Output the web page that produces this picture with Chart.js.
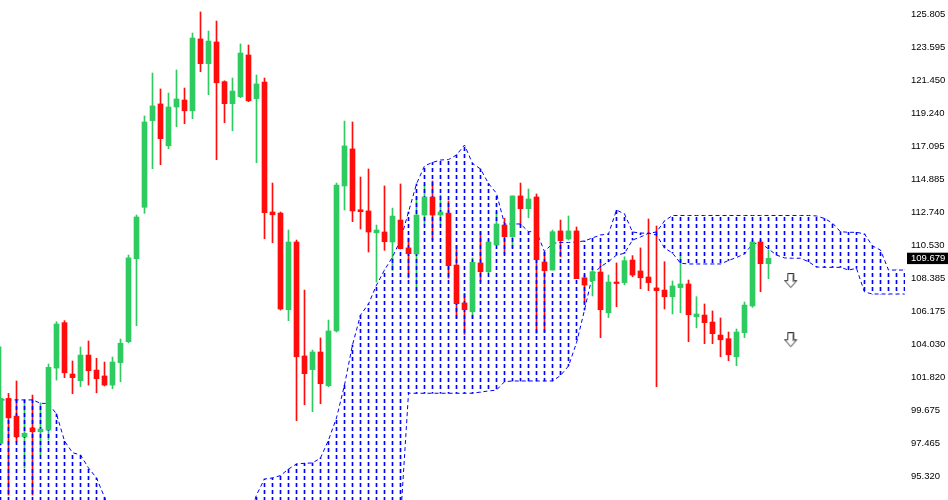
<!DOCTYPE html>
<html>
<head>
<meta charset="utf-8">
<title>Ichimoku chart</title>
<script src="https://cdn.jsdelivr.net/npm/chart.js@4.4.1/dist/chart.umd.min.js"></script>
<style>
  html, body { margin:0; padding:0; background:#fff; }
  #wrap { width:948px; height:500px; position:relative; }
</style>
</head>
<body>
<div id="wrap"><canvas id="chart"></canvas></div>
<script>
// Daily candles, oldest first
const OPEN = [
  97.47,100.44,99.27,97.91,98.49,98.24,98.35,102.44,105.44,102.05,
  101.61,103.30,102.31,101.92,101.32,102.80,104.18,109.66,113.05,118.77,
  119.87,117.11,119.67,120.13,119.42,124.16,122.53,123.96,121.34,119.89,
  120.35,123.10,120.22,121.32,112.74,112.67,106.29,110.76,103.24,102.34,
  103.50,101.28,104.89,114.46,116.90,112.89,112.81,111.37,111.42,110.76,
  112.21,110.37,109.97,112.54,113.73,112.54,112.67,109.24,106.74,106.16,
  109.38,108.80,110.56,111.88,111.11,113.80,112.96,113.73,109.44,108.91,
  111.49,110.96,111.49,108.40,108.21,108.78,106.09,108.12,108.08,109.57,
  108.85,108.45,107.73,107.59,107.15,107.75,107.99,105.83,105.94,105.48,
  104.62,104.38,103.19,104.78,106.54,110.76,109.33
];
const HIGH = [
  103.85,100.77,101.59,100.33,100.66,100.14,102.71,105.50,105.57,102.91,
  103.83,104.23,103.09,102.84,103.17,104.36,109.90,112.54,119.08,121.91,
  120.86,120.59,122.11,120.92,124.55,125.94,124.68,125.34,121.40,121.58,
  123.83,123.76,121.78,121.58,114.65,112.74,111.55,110.89,107.59,103.63,
  104.43,105.61,114.65,118.74,118.68,115.05,115.58,111.88,114.46,113.00,
  114.59,111.02,113.73,114.52,114.79,113.86,113.47,110.52,107.37,109.71,
  111.44,110.89,112.72,112.32,113.80,114.65,114.26,113.93,110.12,111.55,
  112.21,112.48,111.75,108.58,109.02,109.38,108.58,109.38,109.79,109.86,
  110.37,112.28,111.82,109.46,108.19,109.90,108.25,107.15,106.67,106.21,
  105.75,104.82,105.02,106.80,110.89,110.89,110.23
];
const LOW = [
  97.36,94.07,97.56,95.85,94.07,96.71,97.69,101.65,101.81,100.75,
  101.21,101.32,100.81,101.26,101.08,101.54,104.10,105.24,112.65,115.60,
  115.86,116.92,118.37,118.57,118.90,122.00,120.48,116.19,118.63,118.10,
  120.28,120.02,115.99,110.98,110.71,106.27,105.57,98.97,100.02,99.56,
  100.09,101.21,104.82,112.87,112.10,111.62,110.10,108.12,110.21,108.88,
  110.30,108.39,107.48,111.88,110.89,111.88,108.37,105.73,104.67,105.73,
  108.14,108.71,110.56,109.95,110.38,111.88,112.36,104.74,104.80,108.91,
  109.79,110.89,108.34,106.73,107.20,104.45,105.77,106.49,107.94,108.47,
  107.68,107.55,101.21,106.34,106.01,106.09,104.18,105.10,104.05,104.05,
  103.19,102.93,102.60,104.45,106.45,107.48,108.34
];
const CLOSE = [
  100.44,99.16,97.91,98.14,98.24,98.42,102.49,105.35,102.13,101.81,
  103.30,102.27,101.74,101.32,102.84,104.08,109.71,112.41,118.68,119.74,
  117.58,119.67,120.20,119.42,124.22,122.53,124.02,121.27,119.89,120.72,
  123.23,120.08,121.19,112.69,112.56,106.34,110.76,103.19,102.07,103.50,
  101.41,104.89,114.52,117.10,112.81,112.76,111.42,111.55,110.78,112.47,
  110.32,109.99,112.54,113.73,112.54,112.74,109.20,106.69,106.29,109.42,
  108.80,110.76,111.95,111.11,113.80,112.96,113.60,109.59,108.87,111.44,
  110.85,111.49,108.34,107.92,108.80,106.29,108.12,108.02,109.53,108.58,
  108.40,108.08,107.55,107.15,107.86,107.99,105.96,106.01,105.44,104.71,
  104.31,103.32,104.82,106.60,110.76,109.33,109.679
];

// Ichimoku cloud edges, 114 positions (cloud runs past the last candle)
const SPAN_A = [
  100.34,100.34,100.34,100.34,100.34,100.12,100.10,99.41,97.63,96.86,
  96.71,95.85,95.19,93.93,92.42,92.42,92.42,92.42,92.42,92.42,
  92.42,92.42,92.42,92.42,92.42,92.42,92.42,92.42,92.42,92.42,
  92.42,92.42,94.07,95.12,95.19,95.35,95.78,96.11,96.16,96.18,
  96.51,97.69,99.15,101.32,103.97,105.94,106.67,107.92,108.91,109.77,
  110.89,112.74,114.59,115.78,116.01,116.17,116.20,116.50,117.16,115.95,
  115.58,114.62,113.97,111.95,111.95,111.95,111.44,111.44,110.13,110.67,
  110.73,110.73,110.76,110.83,111.03,111.22,111.29,112.87,112.61,111.42,
  111.35,111.34,111.22,110.37,110.03,109.36,109.31,109.31,109.31,109.31,
  109.31,109.54,109.74,109.97,110.63,110.71,110.30,109.90,109.71,109.69,
  109.69,109.46,109.11,109.09,109.09,109.09,108.91,109.02,107.46,107.33,
  107.33,107.33,107.33,107.33
];
const SPAN_B = [
  92.42,92.42,92.42,92.42,92.42,92.42,92.42,92.42,92.42,92.42,
  92.42,92.42,92.42,92.42,92.42,92.42,92.42,92.42,92.42,92.42,
  92.42,92.42,92.42,92.42,92.42,92.42,92.42,92.42,92.42,92.42,
  92.42,92.42,92.42,92.42,92.42,92.42,92.42,92.42,92.42,92.42,
  92.42,92.42,92.42,92.42,92.42,92.42,92.42,92.42,92.42,92.42,
  92.42,100.78,100.78,100.78,100.78,100.78,100.78,100.78,100.78,100.78,
  100.86,100.93,100.99,101.54,101.59,101.59,101.59,101.59,101.59,101.59,
  101.95,102.58,104.10,106.27,108.58,109.13,109.46,109.90,110.01,110.89,
  111.09,111.34,111.42,112.15,112.51,112.51,112.51,112.51,112.51,112.51,
  112.51,112.51,112.51,112.51,112.51,112.51,112.51,112.51,112.51,112.51,
  112.51,112.51,112.48,112.31,112.01,111.44,111.40,111.40,111.29,110.50,
  110.23,108.91,108.91,108.91
];

const PRICE_TICKS = [95.320,97.465,99.675,101.820,104.030,106.175,108.385,
  110.530,112.740,114.885,117.095,119.240,121.450,123.595,125.805];
const LAST_PRICE = 109.679;
const SIGNALS = [ {x:98.85, y:108.18}, {x:98.85, y:104.28} ];

const UP = '#2ecc60', DOWN = '#ff0d0d', CLOUD = '#0000ff';

const canvas = document.getElementById('chart');

// 1px column, 4 on / 3 off, used to fill the cloud bars
function hatchFill() {
  const c = document.createElement('canvas');
  c.width = 1; c.height = 7;
  const g = c.getContext('2d');
  g.fillStyle = CLOUD;
  g.fillRect(0, 0, 1, 4);
  return canvas.getContext('2d').createPattern(c, 'repeat');
}

// hollow down arrow like the terminal's signal glyph
function arrowIcon() {
  const c = document.createElement('canvas');
  c.width = 14; c.height = 16;
  const g = c.getContext('2d');
  g.beginPath();
  g.moveTo(3.5, 0.5); g.lineTo(9.5, 0.5); g.lineTo(9.5, 7.5);
  g.lineTo(12.5, 7.5); g.lineTo(6.5, 14.5); g.lineTo(0.5, 7.5);
  g.lineTo(3.5, 7.5); g.closePath();
  g.fillStyle = '#fff'; g.fill();
  g.strokeStyle = '#333'; g.lineWidth = 1; g.stroke();
  g.strokeStyle = '#999';
  g.beginPath(); g.moveTo(8.5, 1.5); g.lineTo(8.5, 8.5); g.lineTo(10.5, 8.5); g.stroke();
  return c;
}

const idx = OPEN.map((_, i) => i);
const candleColor = idx.map(i => CLOSE[i] >= OPEN[i] ? UP : DOWN);

const wicks  = idx.map(i => ({ x:i, y:[LOW[i], HIGH[i]] }));
const bodies = idx.map(i => ({ x:i, y:[OPEN[i], CLOSE[i]] }));
const cloud  = SPAN_A.map((a, i) => ({ x:i, y:[a, SPAN_B[i]] }));
const lineA  = SPAN_A.map((v, i) => ({ x:i, y:v }));
const lineB  = SPAN_B.map((v, i) => ({ x:i, y:v }));

new Chart(canvas, {
  type: 'bar',
  data: {
    datasets: [
      { type:'bar', data:wicks, backgroundColor:candleColor, barThickness:1,
        grouped:false, borderWidth:0, order:4 },
      { type:'bar', data:cloud, backgroundColor:hatchFill(), barThickness:1,
        grouped:false, borderWidth:0, order:3 },
      { type:'line', data:lineA, borderColor:CLOUD, borderWidth:1, borderDash:[4,3],
        pointRadius:0, tension:0, order:2 },
      { type:'line', data:lineB, borderColor:CLOUD, borderWidth:1, borderDash:[4,3],
        pointRadius:0, tension:0, order:2 },
      { type:'bar', data:bodies, backgroundColor:candleColor, barThickness:5,
        grouped:false, borderWidth:0, minBarLength:1, order:1 },
      { type:'line', data:SIGNALS, showLine:false, pointStyle:arrowIcon(),
        pointRadius:7, order:0 }
    ]
  },
  options: {
    responsive: true,
    maintainAspectRatio: false,
    animation: false,
    events: [],
    layout: { padding:0, autoPadding:false },
    plugins: { legend:{ display:false }, tooltip:{ enabled:false } },
    scales: {
      x: { type:'linear', display:false, offset:false, min:-0.0625, max:113.0625 },
      y: {
        type:'linear', position:'right', min:93.736, max:126.729,
        grid:{ display:false, drawTicks:false }, border:{ display:false },
        afterBuildTicks: s => {
          s.ticks = [...PRICE_TICKS, LAST_PRICE].sort((a, b) => a - b).map(v => ({ value:v }));
        },
        afterFit: s => { s.width = 43; s.paddingTop = 0; s.paddingBottom = 0; },
        ticks: {
          autoSkip:false, padding:6,
          font:{ family:'"Liberation Sans", Arial, sans-serif', size:9.5 },
          color: c => c.tick && c.tick.value === LAST_PRICE ? '#fff' : '#000',
          showLabelBackdrop: c => !!(c.tick && c.tick.value === LAST_PRICE),
          backdropColor:'#000',
          backdropPadding:{ top:0, bottom:0, left:4, right:10 },
          callback: v => v.toFixed(3)
        }
      }
    }
  }
});
</script>
</body>
</html>
